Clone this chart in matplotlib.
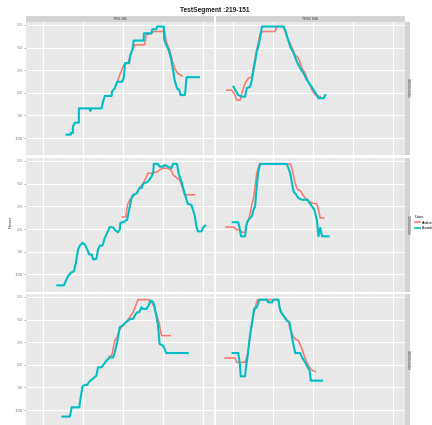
import matplotlib
matplotlib.use("Agg")
import matplotlib.pyplot as plt
from matplotlib.lines import Line2D

plt.rcParams['font.family'] = ['Liberation Sans', 'DejaVu Sans']

# ---------------- data ----------------
title = "TestSegment :219-151"
col_labels = ["TRS 185", "TRS2 040"]
row_labels = ["1305050301", "1305050302", "1305050303"]
users = ["Android", "Broadcom"]
user_colors = ["#F8766D", "#00BFC4"]
y_ticks = [-50, -60, -70, -80, -90, -100]
x_ticks = [0, 10, 20, 30, 40]

# row 1, left column
r1_left_android_x = [18.0, 18.8, 19.4, 20.5, 21.3, 22.2, 23.0, 25.5, 25.9, 27.2, 27.6, 30.5, 30.9, 31.75, 32.4, 33.0, 33.8, 34.9]
r1_left_android_y = [-78.0, -74.3, -71.4, -66.9, -66.9, -61.8, -58.8, -58.8, -54.4, -53.7, -52.9, -52.9, -57.4, -61.1, -65.5, -69.2, -71.4, -72.6]
r1_left_broadcom_x = [5.9, 7.0, 7.0, 7.5, 7.5, 8.0, 9.0, 9.0, 11.7, 11.9, 12.1, 14.7, 14.9, 15.5, 17.2, 17.3, 18.0, 18.6, 19.9, 20.3, 20.6, 21.6, 21.9, 22.4, 22.75, 25.25, 25.3, 27.2, 27.4, 28.4, 28.6, 30.3, 30.4, 30.9, 31.5, 32.1, 32.6, 33.0, 33.6, 34.2, 34.5, 35.6, 36.0, 39.1]
r1_left_broadcom_y = [-98.5, -98.5, -97.7, -97.7, -95.0, -93.2, -93.2, -86.9, -86.9, -88.0, -86.9, -86.9, -85.0, -81.4, -81.4, -79.5, -78.0, -75.1, -75.1, -72.9, -66.9, -66.9, -63.3, -61.1, -56.9, -56.9, -53.7, -53.7, -51.9, -51.9, -50.7, -50.7, -56.6, -58.8, -61.1, -64.7, -69.9, -74.3, -78.0, -78.8, -81.0, -81.0, -73.1, -73.1]

# row 1, right column
r1_right_android_x = [-1.6, -0.3, 0.5, 0.9, 1.75, 2.2, 3.0, 3.8, 4.7, 5.1, 5.9, 6.75, 7.6, 10.5, 10.9, 12.6, 13.4, 14.25, 15.5, 16.3, 17.2, 18.0, 18.8, 19.7, 20.5, 21.75]
r1_right_android_y = [-78.8, -78.8, -81.0, -83.2, -83.2, -80.2, -75.8, -73.6, -72.9, -68.4, -61.1, -53.7, -52.9, -52.9, -50.7, -50.7, -55.2, -58.1, -63.3, -64.7, -69.2, -71.4, -75.1, -78.8, -81.0, -81.7]
r1_right_broadcom_x = [0.1, 1.3, 2.2, 3.0, 3.4, 4.25, 4.7, 5.1, 5.5, 5.9, 6.3, 6.75, 7.2, 12.6, 13.0, 13.6, 14.25, 15.1, 15.9, 16.75, 17.6, 18.4, 19.25, 20.1, 20.9, 21.3, 22.6, 23.0]
r1_right_broadcom_y = [-77.3, -81.0, -81.7, -81.7, -78.0, -77.3, -74.3, -69.9, -66.2, -61.8, -59.6, -55.9, -50.7, -50.7, -52.2, -55.9, -59.6, -62.5, -66.2, -69.2, -71.4, -74.3, -76.5, -78.8, -81.0, -82.4, -82.4, -81.0]

# row 2, left column
r2_left_android_x = [19.9, 20.75, 21.2, 21.75, 22.6, 23.4, 24.25, 25.1, 25.9, 26.3, 27.2, 28.8, 29.25, 30.1, 31.3, 32.2, 32.6, 33.4, 34.25, 34.9, 35.5, 38.0]
r2_left_android_y = [-74.7, -74.7, -69.3, -67.1, -65.7, -64.2, -62.0, -59.8, -57.2, -55.4, -55.4, -54.7, -53.9, -53.2, -53.2, -54.2, -56.1, -57.2, -58.3, -61.3, -64.9, -64.9]
r2_left_broadcom_x = [3.6, 5.25, 5.7, 6.3, 7.2, 7.75, 8.25, 8.8, 9.25, 9.9, 10.5, 11.1, 11.6, 12.2, 12.6, 13.4, 13.8, 14.25, 14.9, 15.5, 16.1, 16.75, 17.6, 18.0, 18.8, 19.25, 19.4, 20.5, 21.1, 21.6, 22.2, 22.6, 23.25, 23.6, 23.8, 24.25, 24.7, 25.1, 26.3, 27.2, 27.6, 27.8, 28.8, 29.25, 30.1, 30.5, 31.3, 32.2, 32.6, 33.6, 34.0, 34.7, 35.25, 35.75, 36.3, 37.2, 37.6, 38.0, 38.4, 38.8, 39.7, 40.25, 40.7]
r2_left_broadcom_y = [-104.8, -104.8, -102.9, -100.7, -99.0, -98.6, -94.9, -89.0, -87.3, -86.1, -86.8, -89.0, -91.2, -91.2, -93.4, -93.1, -89.0, -87.3, -87.3, -83.9, -81.7, -79.1, -79.3, -80.3, -81.4, -80.3, -77.3, -76.6, -75.9, -71.5, -66.4, -64.9, -64.5, -64.2, -63.2, -61.7, -62.0, -60.1, -59.1, -56.9, -55.4, -51.3, -51.3, -52.5, -52.5, -51.75, -52.5, -53.2, -51.3, -51.3, -55.4, -59.1, -62.7, -65.7, -68.9, -69.3, -71.5, -73.7, -78.1, -81.0, -81.0, -79.1, -78.5]

# row 2, right column
r2_right_android_x = [-1.75, 0.1, 0.9, 1.75, 2.2, 3.0, 3.4, 4.1, 4.7, 5.1, 5.5, 5.9, 6.6, 14.25, 14.7, 15.1, 15.5, 16.1, 16.75, 17.4, 18.0, 18.6, 19.7, 20.9, 21.3, 21.75, 22.6]
r2_right_android_y = [-79.1, -79.1, -80.3, -80.3, -81.4, -81.4, -78.1, -74.4, -69.3, -66.4, -61.3, -55.4, -51.3, -51.3, -53.2, -56.9, -59.8, -62.7, -63.0, -64.9, -66.4, -67.4, -68.6, -68.9, -71.5, -75.1, -75.1]
r2_right_broadcom_x = [-0.1, 1.3, 1.6, 2.0, 3.0, 3.25, 3.6, 4.25, 4.7, 5.1, 5.5, 5.9, 6.3, 6.75, 13.4, 13.8, 14.25, 14.7, 15.1, 15.75, 16.3, 17.2, 18.6, 19.1, 19.7, 20.25, 20.9, 21.3, 21.75, 22.2, 23.8]
r2_right_broadcom_y = [-77.0, -77.0, -79.1, -83.2, -83.2, -78.8, -76.6, -75.1, -74.4, -71.5, -70.0, -61.3, -54.7, -51.3, -51.3, -53.2, -55.4, -59.8, -63.5, -64.9, -66.4, -67.1, -67.1, -68.6, -70.0, -71.5, -75.9, -83.2, -79.5, -83.2, -83.2]

# row 3, left column
r3_left_android_x = [16.6, 17.2, 18.0, 18.6, 19.25, 20.1, 20.9, 21.75, 22.6, 23.4, 23.8, 26.6, 27.2, 27.75, 28.4, 29.1, 29.7, 31.9]
r3_left_android_y = [-76.2, -76.2, -69.3, -67.8, -64.2, -62.7, -61.2, -59.0, -56.8, -53.1, -51.2, -51.2, -52.4, -53.8, -57.5, -61.2, -67.1, -67.1]
r3_left_broadcom_x = [4.9, 6.75, 7.2, 9.1, 9.4, 9.9, 10.5, 11.1, 11.6, 12.4, 13.4, 13.8, 14.7, 15.1, 15.9, 16.75, 17.6, 18.0, 18.6, 19.25, 19.9, 20.75, 21.3, 21.9, 22.6, 23.0, 23.6, 24.1, 24.7, 25.1, 25.9, 26.5, 26.9, 27.6, 28.0, 28.4, 28.8, 29.25, 30.1, 30.5, 30.9, 36.3]
r3_left_broadcom_y = [-102.9, -102.9, -98.8, -98.8, -95.1, -89.5, -88.9, -88.9, -87.5, -86.3, -84.8, -81.1, -81.1, -80.1, -78.2, -76.7, -76.7, -74.5, -70.0, -63.4, -62.7, -61.2, -60.5, -59.7, -59.7, -58.3, -56.8, -56.8, -54.6, -55.3, -55.3, -53.8, -51.6, -52.1, -54.6, -58.3, -61.9, -70.8, -71.5, -73.0, -74.8, -74.8]

# row 3, right column
r3_right_android_x = [-2.0, 0.5, 0.9, 3.0, 3.4, 3.8, 4.25, 4.7, 5.25, 5.75, 6.1, 11.3, 11.75, 12.2, 13.0, 13.8, 14.25, 14.9, 15.5, 16.3, 17.2, 17.75, 18.4, 19.25, 19.9, 20.5]
r3_right_android_y = [-77.0, -77.0, -78.9, -78.9, -76.7, -73.8, -67.8, -61.9, -56.8, -53.1, -51.2, -51.2, -56.1, -57.5, -59.0, -60.9, -64.2, -67.1, -68.6, -69.3, -73.0, -76.0, -78.9, -81.6, -82.6, -83.0]
r3_right_broadcom_x = [-0.1, 1.3, 1.75, 1.9, 3.0, 3.25, 3.6, 4.1, 4.4, 4.9, 5.25, 5.9, 6.6, 8.4, 8.8, 9.7, 10.1, 11.3, 11.6, 12.0, 12.6, 13.4, 14.1, 14.7, 15.1, 15.5, 16.75, 17.2, 17.75, 18.4, 19.1, 19.4, 22.2]
r3_right_broadcom_y = [-74.8, -74.8, -80.4, -85.1, -85.1, -80.4, -76.7, -68.6, -64.9, -59.7, -55.3, -54.6, -51.2, -51.2, -52.4, -52.4, -51.2, -51.2, -54.6, -56.8, -58.3, -60.5, -61.2, -67.8, -71.5, -74.8, -74.8, -76.7, -78.2, -80.4, -82.6, -87.0, -87.0]

panels = [
    [((r1_left_android_x, r1_left_android_y), (r1_left_broadcom_x, r1_left_broadcom_y)),
     ((r1_right_android_x, r1_right_android_y), (r1_right_broadcom_x, r1_right_broadcom_y))],
    [((r2_left_android_x, r2_left_android_y), (r2_left_broadcom_x, r2_left_broadcom_y)),
     ((r2_right_android_x, r2_right_android_y), (r2_right_broadcom_x, r2_right_broadcom_y))],
    [((r3_left_android_x, r3_left_android_y), (r3_left_broadcom_x, r3_left_broadcom_y)),
     ((r3_right_android_x, r3_right_android_y), (r3_right_broadcom_x, r3_right_broadcom_y))],
]

# ---------------- layout ----------------
W, H = 432, 425
fig = plt.figure(figsize=(W / 100, H / 100), dpi=100)
fig.patch.set_facecolor("white")


def px_axes(x0, y0, x1, y1):
    return fig.add_axes([x0 / W, 1 - y1 / H, (x1 - x0) / W, (y1 - y0) / H])


col_px = [(26, 213.5), (216, 404.5)]
row_px = [(22, 155), (158, 291.5), (294, 427)]
panel_bg = "#E8E8E8"
strip_bg = "#D4D4D4"

for ri, (y0, y1) in enumerate(row_px):
    for ci, (x0, x1) in enumerate(col_px):
        ax = px_axes(x0, y0, x1, y1)
        ax.set_facecolor(panel_bg)
        for s in ax.spines.values():
            s.set_visible(False)
        ax.set_xlim(-4.25, 42.75)
        ax.set_ylim(-107.5, -48.7)
        ax.set_yticks(y_ticks)
        ax.set_yticks([-55, -65, -75, -85, -95, -105], minor=True)
        ax.set_xticks(x_ticks)
        ax.set_xticks([5, 15, 25, 35], minor=True)
        ax.grid(True, which="major", color="white", lw=0.8)
        ax.grid(True, which="minor", color="#F2F2F2", lw=0.35)
        ax.set_axisbelow(True)
        ax.tick_params(axis="x", which="both", length=0, labelbottom=False)
        ax.tick_params(axis="y", which="minor", length=0)
        if ci == 0:
            ax.set_yticklabels([str(v) for v in y_ticks])
            ax.tick_params(axis="y", which="major", labelsize=3, colors="#7A7A7A",
                           length=1.5, width=0.4, pad=1)
        else:
            ax.tick_params(axis="y", which="major", length=0, labelleft=False)
        (ax_, ay_), (bx_, by_) = panels[ri][ci]
        ax.plot(ax_, ay_, color=user_colors[0], lw=1.1, solid_joinstyle="round")
        ax.plot(bx_, by_, color=user_colors[1], lw=1.5, solid_joinstyle="round")

        if ci == 1:
            sax = px_axes(405, y0, 410, min(y1, H))
            sax.set_facecolor(strip_bg)
            sax.set_xticks([]); sax.set_yticks([])
            for s in sax.spines.values():
                s.set_visible(False)
            sax.text(0.5, 0.5, row_labels[ri], rotation=-90, ha="center", va="center",
                     fontsize=2.5, color="#333333", transform=sax.transAxes)

for ci, (x0, x1) in enumerate(col_px):
    sax = px_axes(x0, 16, x1, 22)
    sax.set_facecolor(strip_bg)
    sax.set_xticks([]); sax.set_yticks([])
    for s in sax.spines.values():
        s.set_visible(False)
    sax.text(0.5, 0.5, col_labels[ci], ha="center", va="center", fontsize=2.5,
             color="#333333", transform=sax.transAxes)

fig.text(215 / W, 1 - 11 / H, title, ha="center", va="center", fontsize=4.8,
         fontweight="bold", color="#222222")
fig.text(11 / W, 1 - 222 / H, "Power", rotation=90, ha="center", va="center",
         fontsize=3.2, color="#333333")

handles = [Line2D([], [], color=c, lw=1.2) for c in user_colors]
leg = fig.legend(handles, users, title="User", loc="upper left",
                 bbox_to_anchor=(413 / W, 1 - 213 / H), frameon=False,
                 fontsize=2.6, title_fontsize=3, handlelength=1.4,
                 handletextpad=0.5, labelspacing=0.5, borderpad=0)
leg._legend_box.align = "left"

fig.savefig("out.png", dpi=100, facecolor="white")
